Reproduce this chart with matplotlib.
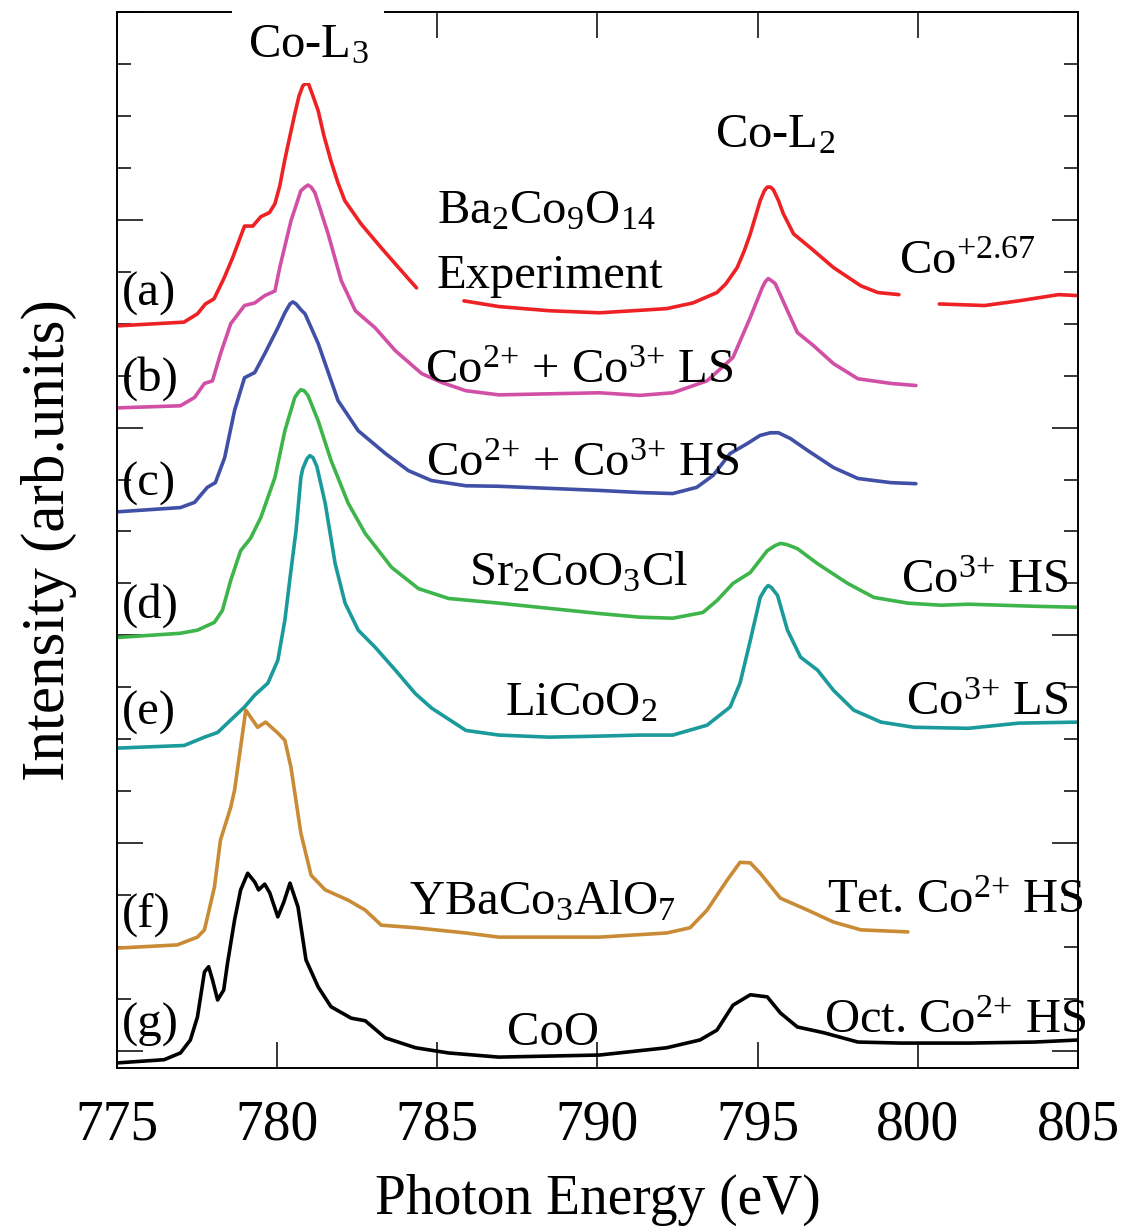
#!/usr/bin/env python
# -*- coding: utf-8 -*-

"""
Co L2,3 XAS spectra of Ba2Co9O14 compared with reference compounds.
"""

# Third party modules.
import numpy as np
import matplotlib
matplotlib.use("Agg")
import matplotlib.pyplot as plt

# Globals and constants variables.
nan = np.nan

# (a) Ba2Co9O14 experiment (gaps where the labels sit)
energyA_eV = [775.05, 777.09, 777.51, 777.76, 778.03, 778.35, 778.61, 778.98, 779.24, 779.49,
              779.76, 779.93, 780.08, 780.23, 780.33, 780.55, 780.68, 780.80, 780.90, 780.99,
              781.12, 781.28, 781.46, 781.68, 781.90, 782.11, 782.62, 783.25, 783.79, 784.35, nan,
              785.83, 786.92, 788.49, 790.06, 792.16, 792.98, 793.73, 794.01, 794.36, 794.58,
              794.77, 795.08, 795.21, 795.30, 795.40, 795.49, 795.65, 795.80, 796.12, 796.65,
              797.37, 798.22, 798.75, 799.41, nan,
              800.67, 802.08, 803.15, 804.40, 805.03]
intensityA = [13.96, 14.03, 14.19, 14.38, 14.48, 14.89, 15.27, 15.88, 15.88, 16.06,
              16.14, 16.31, 16.65, 17.13, 17.42, 18.04, 18.38, 18.58, 18.63, 18.60,
              18.38, 18.10, 17.62, 17.13, 16.71, 16.37, 15.92, 15.46, 15.08, 14.69, nan,
              14.44, 14.33, 14.25, 14.21, 14.29, 14.40, 14.60, 14.77, 15.08, 15.40,
              15.73, 16.37, 16.56, 16.63, 16.63, 16.58, 16.37, 16.12, 15.73, 15.46,
              15.08, 14.73, 14.60, 14.56, nan,
              14.38, 14.35, 14.44, 14.56, 14.54]

# (b) Co2+ + Co3+ LS
energyB_eV = [775.05, 776.98, 777.42, 777.73, 777.98, 778.23, 778.55, 778.98, 779.30, 779.61,
              779.93, 780.08, 780.43, 780.74, 780.87, 780.96, 781.06, 781.18, 781.59, 782.00,
              782.44, 783.06, 783.69, 784.51, 785.13, 785.89, 786.92, 790.06, 791.32, 792.35,
              793.42, 794.23, 794.77, 795.14, 795.24, 795.33, 795.43, 795.55, 795.93, 796.24,
              796.74, 797.37, 798.13, 799.16, 799.94]
intensityB = [12.38, 12.42, 12.58, 12.85, 12.90, 13.42, 14.00, 14.35, 14.40, 14.54,
              14.63, 15.08, 15.98, 16.56, 16.63, 16.67, 16.63, 16.52, 15.73, 14.83,
              14.25, 13.92, 13.48, 13.04, 12.87, 12.71, 12.63, 12.67, 12.62, 12.67,
              12.90, 13.35, 14.12, 14.69, 14.81, 14.87, 14.83, 14.77, 14.25, 13.83,
              13.58, 13.23, 12.94, 12.85, 12.81]

# (c) Co2+ + Co3+ HS
energyC_eV = [775.05, 776.98, 777.42, 777.82, 778.07, 778.36, 778.67, 778.98, 779.30, 779.61,
              780.02, 780.24, 780.40, 780.49, 780.59, 780.74, 780.87, 781.28, 781.90, 782.53,
              783.38, 784.10, 784.82, 785.89, 786.92, 788.49, 790.06, 791.32, 792.35, 793.10,
              793.61, 794.14, 794.67, 795.08, 795.40, 795.65, 796.02, 796.56, 797.37, 798.13,
              799.16, 799.94]
intensityC = [10.38, 10.46, 10.56, 10.85, 10.94, 11.42, 12.33, 12.96, 13.06, 13.42,
              13.92, 14.21, 14.38, 14.42, 14.38, 14.27, 14.19, 13.62, 12.52, 11.94,
              11.50, 11.17, 10.98, 10.88, 10.87, 10.83, 10.79, 10.75, 10.73, 10.85,
              11.08, 11.50, 11.69, 11.85, 11.90, 11.90, 11.79, 11.56, 11.23, 11.02,
              10.94, 10.92]

# (d) Sr2CoO3Cl
energyD_eV = [775.05, 776.98, 777.51, 778.04, 778.29, 778.55, 778.86, 779.17, 779.49, 779.93,
              780.24, 780.55, 780.65, 780.74, 780.84, 780.96, 781.28, 781.68, 782.22, 782.75,
              783.57, 784.41, 785.35, 786.92, 788.49, 790.06, 791.32, 792.35, 793.29, 793.73,
              794.23, 794.77, 795.30, 795.55, 795.71, 795.90, 796.24, 796.87, 797.81, 798.63,
              799.69, 800.73, 801.58, 803.65, 805.03]
intensityD = [7.96, 8.04, 8.10, 8.25, 8.48, 9.06, 9.63, 9.87, 10.27, 11.04,
              11.94, 12.58, 12.67, 12.73, 12.71, 12.62, 12.13, 11.37, 10.54, 9.96,
              9.31, 8.90, 8.71, 8.62, 8.52, 8.42, 8.35, 8.33, 8.44, 8.67,
              9.00, 9.21, 9.63, 9.73, 9.77, 9.75, 9.67, 9.38, 9.00, 8.73,
              8.62, 8.58, 8.60, 8.56, 8.54]

# (e) LiCoO2
energyE_eV = [775.05, 777.10, 777.73, 778.14, 778.55, 778.98, 779.30, 779.71, 780.02, 780.24,
              780.43, 780.59, 780.74, 780.80, 780.93, 781.02, 781.12, 781.24, 781.50, 781.81,
              782.12, 782.53, 783.06, 783.69, 784.31, 784.82, 785.89, 786.92, 788.49, 790.06,
              791.32, 792.35, 793.42, 794.14, 794.45, 794.77, 795.08, 795.24, 795.33, 795.43,
              795.62, 795.93, 796.34, 796.87, 797.37, 798.00, 798.85, 799.88, 801.58, 803.15,
              805.03]
intensityE = [5.83, 5.88, 6.04, 6.13, 6.37, 6.62, 6.85, 7.08, 7.52, 8.29,
              9.25, 10.02, 11.04, 11.21, 11.40, 11.46, 11.42, 11.25, 10.54, 9.38,
              8.62, 8.10, 7.77, 7.33, 6.88, 6.60, 6.17, 6.08, 6.04, 6.06,
              6.08, 6.08, 6.27, 6.62, 7.08, 7.90, 8.73, 8.90, 8.96, 8.92,
              8.77, 8.10, 7.58, 7.33, 6.94, 6.56, 6.33, 6.23, 6.21, 6.31,
              6.33]

# (f) YBaCo3AlO7
energyF_eV = [775.05, 776.88, 777.51, 777.73, 778.04, 778.23, 778.55, 778.67, 779.02, 779.39,
              779.64, 780.02, 780.24, 780.43, 780.74, 781.06, 781.50, 782.22, 782.75, 783.25,
              784.32, 785.89, 786.92, 790.06, 792.16, 792.89, 793.42, 794.05, 794.45, 794.77,
              795.08, 795.71, 796.56, 797.37, 798.22, 799.69]
intensityF = [1.98, 2.04, 2.19, 2.33, 3.15, 4.06, 4.69, 5.02, 6.56, 6.23,
              6.33, 6.12, 5.98, 5.46, 4.19, 3.38, 3.10, 2.90, 2.71, 2.42,
              2.37, 2.27, 2.19, 2.19, 2.27, 2.37, 2.71, 3.29, 3.63, 3.62,
              3.42, 2.94, 2.71, 2.48, 2.33, 2.29]

# (g) CoO
energyG_eV = [775.05, 776.47, 776.98, 777.29, 777.51, 777.73, 777.86, 777.98, 778.14, 778.33,
              778.45, 778.67, 778.86, 779.08, 779.30, 779.42, 779.61, 779.77, 780.02, 780.21,
              780.40, 780.65, 780.90, 781.28, 781.68, 782.31, 782.75, 783.38, 784.32, 785.35,
              786.92, 790.06, 792.16, 793.20, 793.73, 794.23, 794.77, 795.30, 795.71, 796.24,
              797.06, 798.13, 799.47, 801.58, 803.65, 805.03]
intensityG = [-0.23, -0.17, -0.04, 0.21, 0.65, 1.52, 1.62, 1.37, 0.98, 1.17,
              1.69, 2.52, 3.10, 3.42, 3.25, 3.10, 3.21, 3.04, 2.58, 2.87,
              3.23, 2.77, 1.75, 1.23, 0.85, 0.63, 0.58, 0.25, 0.06, -0.04,
              -0.12, -0.08, 0.06, 0.21, 0.40, 0.88, 1.08, 1.04, 0.73, 0.46,
              0.35, 0.17, 0.15, 0.15, 0.17, 0.21]

spectra = [
    (energyA_eV, intensityA, "#ee2124"),
    (energyB_eV, intensityB, "#d24fa6"),
    (energyC_eV, intensityC, "#4050a6"),
    (energyD_eV, intensityD, "#3db54a"),
    (energyE_eV, intensityE, "#1a9a9b"),
    (energyF_eV, intensityF, "#c98b36"),
    (energyG_eV, intensityG, "#000000"),
]

panelLabels = ["(a)", "(b)", "(c)", "(d)", "(e)", "(f)", "(g)"]
panelLabelY = [14.58, 12.94, 10.92, 8.58, 6.50, 2.62, 0.50]

xTicks_eV = [775, 780, 785, 790, 795, 800, 805]


def runPlot():
    plt.rcParams["font.family"] = ["Liberation Serif", "DejaVu Serif"]
    plt.rcParams["mathtext.fontset"] = "custom"
    plt.rcParams["mathtext.rm"] = "Liberation Serif"
    plt.rcParams["mathtext.it"] = "Liberation Serif:italic"
    plt.rcParams["mathtext.bf"] = "Liberation Serif:bold"

    fig = plt.figure(figsize=(11.23, 12.31), dpi=100)
    ax = fig.add_axes([0.1042, 0.1324, 0.8557, 0.8578])

    for energy, intensity, color in spectra:
        ax.plot(energy, intensity, color=color, lw=2.6,
                solid_capstyle="round", solid_joinstyle="round")

    ax.set_xlim(775, 805)
    ax.set_ylim(-0.33, 20.0)

    ax.set_xticks(xTicks_eV)
    ax.set_yticks(np.arange(0, 21, 4))
    ax.set_yticks(np.arange(0, 21, 1), minor=True)
    ax.set_yticklabels([])
    ax.tick_params(axis="x", which="major", direction="in", top=True, length=19,
                   width=1.1, labelsize=40, pad=23)
    ax.tick_params(axis="y", which="major", direction="in", right=True, length=19, width=1.1)
    ax.tick_params(axis="y", which="minor", direction="in", right=True, length=10, width=1.1)
    for spine in ax.spines.values():
        spine.set_linewidth(1.4)

    ax.set_xlabel("Photon Energy (eV)", fontsize=40, labelpad=16)
    ax.set_ylabel("Intensity (arb.units)", fontsize=44, labelpad=25)

    fs = 35
    for label, y in zip(panelLabels, panelLabelY):
        ax.text(775.15, y, label, fontsize=fs, va="center", ha="left")

    # the white box of the L3 label breaks the top frame, as in the original
    ax.text(780.96, 19.35, r"Co-L$_3$", fontsize=fs, ha="center", va="center", zorder=5,
            bbox=dict(boxstyle="square,pad=0.32", facecolor="white", edgecolor="none"))
    ax.text(795.55, 17.62, r"Co-L$_2$", fontsize=fs, ha="center", va="center")

    ax.text(784.98, 15.94, r"Ba$_2$Co$_9$O$_{14}$", fontsize=fs, va="baseline")
    ax.text(784.98, 14.69, "Experiment", fontsize=fs, va="baseline")
    ax.text(799.41, 14.96, r"Co$^{+2.67}$", fontsize=fs, va="baseline")

    ax.text(784.63, 12.85, r"Co$^{2{+}}$ + Co$^{3{+}}$ LS", fontsize=fs, va="baseline")
    ax.text(784.66, 11.06, r"Co$^{2{+}}$ + Co$^{3{+}}$ HS", fontsize=fs, va="baseline")

    ax.text(785.98, 8.96, r"Sr$_2$CoO$_3$Cl", fontsize=fs, va="baseline")
    ax.text(799.47, 8.81, r"Co$^{3{+}}$ HS", fontsize=fs, va="baseline")

    ax.text(787.11, 6.46, r"LiCoO$_2$", fontsize=fs, va="baseline")
    ax.text(799.63, 6.46, r"Co$^{3{+}}$ LS", fontsize=fs, va="baseline")

    ax.text(784.10, 2.62, r"YBaCo$_3$AlO$_7$", fontsize=fs, va="baseline")
    ax.text(797.18, 2.65, r"Tet. Co$^{2{+}}$ HS", fontsize=fs, va="baseline")

    ax.text(787.17, 0.12, "CoO", fontsize=fs, va="baseline")
    ax.text(797.06, 0.35, r"Oct. Co$^{2{+}}$ HS", fontsize=fs, va="baseline")

    fig.savefig("out.png", dpi=100)


if __name__ == '__main__':  # pragma: no cover
    runPlot()
